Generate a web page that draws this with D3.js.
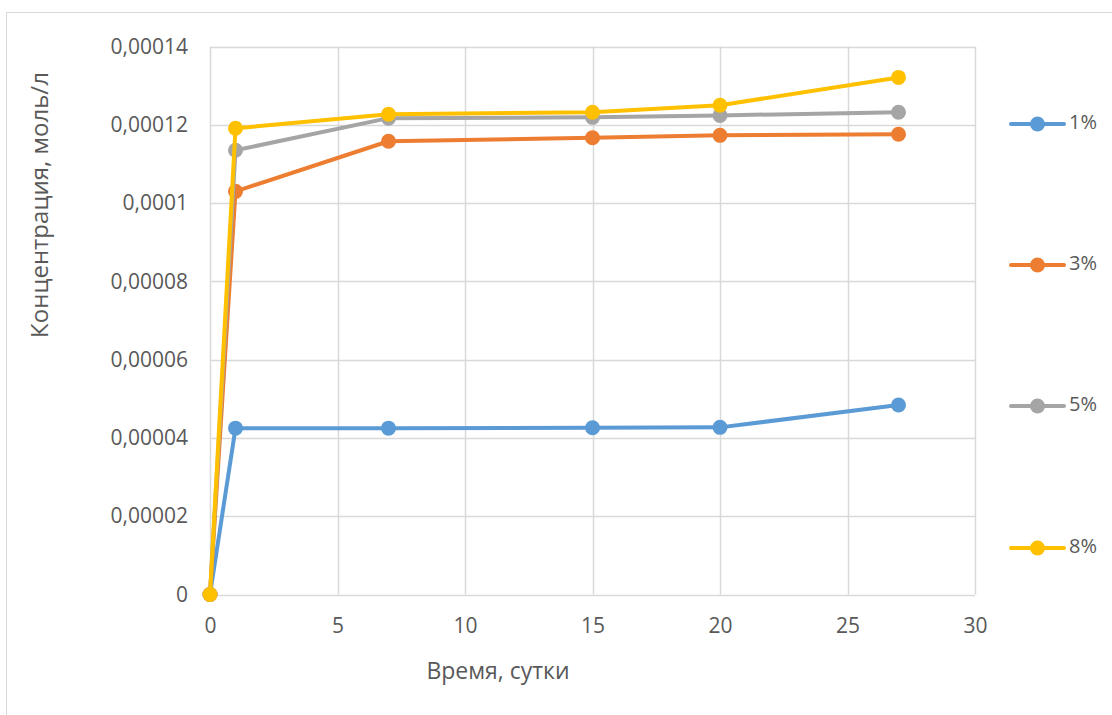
<!DOCTYPE html>
<html><head><meta charset="utf-8">
<script src="https://cdn.jsdelivr.net/npm/d3@7"></script>
<style>body{margin:0;background:#fff;} svg{display:block;}</style>
</head><body>
<svg id="c" width="1112" height="715"></svg>
<script>
const days = [0, 1, 7, 15, 20, 27];
const seriesNames = ["1%", "3%", "5%", "8%"];
const s1 = [0, 0.0000425, 0.0000425, 0.0000426, 0.0000427, 0.0000484];
const s3 = [0, 0.000103, 0.0001158, 0.0001167, 0.0001173, 0.0001176];
const s5 = [0, 0.0001135, 0.0001217, 0.0001219, 0.0001224, 0.0001232];
const s8 = [0, 0.0001191, 0.0001227, 0.0001232, 0.000125, 0.0001321];
const colors = ["#5b9bd5", "#ed7d31", "#a5a5a5", "#ffc000"];
const xTicks = [0, 5, 10, 15, 20, 25, 30];
const yTicks = [0, 0.00002, 0.00004, 0.00006, 0.00008, 0.0001, 0.00012, 0.00014];
const yTickLabels = ["0", "0,00002", "0,00004", "0,00006", "0,00008", "0,0001", "0,00012", "0,00014"];
const xTitle = "Время, сутки";
const yTitle = "Концентрация, моль/л";

const svg = d3.select("#c");
const font = "'Open Sans', 'Liberation Sans', sans-serif";
const txt = "#595959";

svg.append("rect").attr("x", 6.5).attr("y", 12.5).attr("width", 1200).attr("height", 800)
  .attr("fill", "none").attr("stroke", "#d9d9d9");

const x = d3.scaleLinear().domain([0, 30]).range([210, 975]);
const y = d3.scaleLinear().domain([0, 0.00014]).range([594.5, 46.5]);

// grid
const g = svg.append("g");
g.selectAll(".hg").data(yTicks).join("line")
  .attr("x1", x(0)).attr("x2", x(30)).attr("y1", d => Math.round(y(d)) + 0.5).attr("y2", d => Math.round(y(d)) + 0.5)
  .attr("stroke", "#d9d9d9").attr("stroke-width", 1.5);
g.selectAll(".vg").data(xTicks).join("line")
  .attr("y1", y(0)).attr("y2", y(0.00014)).attr("x1", d => Math.round(x(d)) + 0.5).attr("x2", d => Math.round(x(d)) + 0.5)
  .attr("stroke", "#d9d9d9").attr("stroke-width", 1.5);

// axes labels via d3 axes
const xAxis = d3.axisBottom(x).tickValues(xTicks).tickSize(0).tickPadding(24).tickFormat(d3.format("d"));
const xa = svg.append("g").attr("transform", `translate(0,${y(0)})`).call(xAxis);
xa.select(".domain").remove();
xa.selectAll("text").attr("font-family", font).attr("font-size", 21).attr("fill", txt);

const yAxis = d3.axisLeft(y).tickValues(yTicks).tickSize(0).tickPadding(22).tickFormat((d, i) => yTickLabels[i]);
const ya = svg.append("g").attr("transform", `translate(${x(0)},0)`).call(yAxis);
ya.select(".domain").remove();
ya.selectAll("text").attr("font-family", font).attr("font-size", 21).attr("fill", txt);

// titles
svg.append("text").attr("x", 498).attr("y", 673).attr("text-anchor", "middle").attr("dominant-baseline", "middle")
  .attr("font-family", font).attr("font-size", 23).attr("fill", txt).text(xTitle);
svg.append("text").attr("transform", "translate(42,205) rotate(-90)").attr("text-anchor", "middle").attr("dominant-baseline", "middle")
  .attr("font-family", font).attr("font-size", 24).attr("fill", txt).text(yTitle);

// series
const all = [s1, s3, s5, s8];
const line = d3.line().x((d, i) => x(days[i])).y(d => y(d));
all.forEach((s, k) => {
  const sg = svg.append("g");
  sg.append("path").datum(s).attr("d", line).attr("fill", "none").attr("stroke", colors[k])
    .attr("stroke-width", 4).attr("stroke-linejoin", "round").attr("stroke-linecap", "round");
  sg.selectAll("circle").data(s).join("circle").attr("cx", (d, i) => x(days[i])).attr("cy", d => y(d))
    .attr("r", 7.5).attr("fill", colors[k]);
});

// legend
const legY = [124, 265, 406, 548];
seriesNames.forEach((n, k) => {
  const lg = svg.append("g");
  lg.append("line").attr("x1", 1011).attr("x2", 1064).attr("y1", legY[k]).attr("y2", legY[k])
    .attr("stroke", colors[k]).attr("stroke-width", 4).attr("stroke-linecap", "round");
  lg.append("circle").attr("cx", 1037.5).attr("cy", legY[k]).attr("r", 7.5).attr("fill", colors[k]);
  lg.append("text").attr("x", 1069).attr("y", legY[k]).attr("dominant-baseline", "middle")
    .attr("font-family", font).attr("font-size", 20).attr("fill", txt).text(n);
});
</script>
</body></html>
